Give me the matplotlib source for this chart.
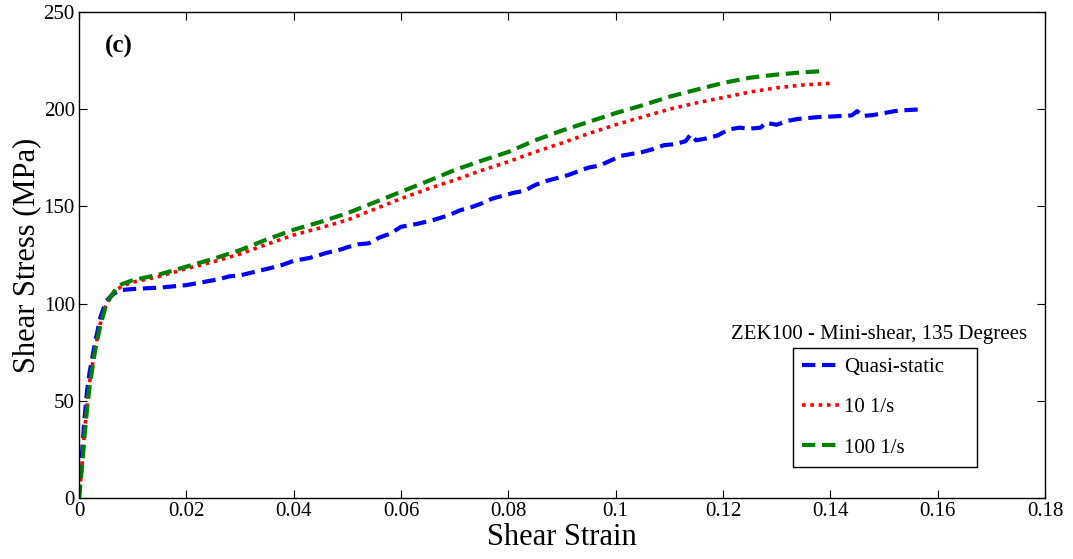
import matplotlib
matplotlib.use("Agg")
import matplotlib.pyplot as plt

plt.rcParams['font.family'] = ['Liberation Serif', 'DejaVu Serif']

# Quasi-static
qs_strain = [0, 0.0005, 0.001, 0.0015, 0.002, 0.003, 0.004, 0.005, 0.006, 0.007, 0.008, 0.010,
             0.012, 0.015, 0.018, 0.020, 0.023, 0.026, 0.028, 0.030, 0.033, 0.036, 0.038,
             0.040, 0.043, 0.046, 0.049, 0.050, 0.052, 0.054, 0.056, 0.058, 0.060, 0.063,
             0.066, 0.069, 0.071, 0.073, 0.075, 0.077, 0.079, 0.081, 0.083, 0.085, 0.087,
             0.089, 0.091, 0.093, 0.095, 0.097, 0.099, 0.101, 0.103, 0.105, 0.107, 0.109,
             0.111, 0.113, 0.114, 0.115, 0.117, 0.119, 0.121, 0.123, 0.125, 0.127, 0.128,
             0.130, 0.132, 0.134, 0.136, 0.138, 0.140, 0.142, 0.144, 0.145, 0.146, 0.148,
             0.150, 0.152, 0.154, 0.156, 0.157]
qs_stress = [0, 20, 40, 55, 65, 80, 93, 101, 104, 106, 107, 107.5,
             107.8, 108.2, 109, 109.5, 111, 112.5, 114, 114.5, 116.5, 118.5, 120,
             122, 123.5, 126, 128, 129, 130.5, 131, 134, 136, 139.5, 141,
             143, 145.5, 148, 149.5, 151.5, 154, 155.5, 157, 158, 161, 163,
             164.5, 166, 168, 170, 171, 173.5, 176, 177, 178, 179.5, 181.5,
             182, 183.5, 187, 184, 185, 186.5, 189.5, 190.5, 190, 190.5, 193,
             192, 194, 195, 195.5, 196, 196.2, 196.5, 196.8, 199, 196.5, 197,
             198, 199, 199.5, 199.8, 200]

# 10 1/s
r10_strain = [0, 0.0005, 0.001, 0.0015, 0.002, 0.003, 0.004, 0.005, 0.006, 0.007, 0.008,
              0.010, 0.015, 0.020, 0.025, 0.030, 0.035, 0.040, 0.045, 0.050, 0.055, 0.060,
              0.065, 0.070, 0.075, 0.080, 0.085, 0.090, 0.095, 0.100, 0.105, 0.110, 0.115,
              0.120, 0.125, 0.130, 0.135, 0.140]
r10_stress = [0, 15, 33, 48, 60, 77, 90, 99, 104, 107, 109,
              111, 114, 118, 121.5, 125.5, 130.5, 135.3, 139, 143, 148.5, 154,
              159, 163.6, 168.5, 173, 178, 182.6, 187.5, 192, 196, 200, 203.2,
              206, 208.8, 211, 212.5, 213.3]

# 100 1/s
r100_strain = [0, 0.0005, 0.001, 0.0015, 0.002, 0.003, 0.004, 0.005, 0.006, 0.007, 0.008,
               0.010, 0.015, 0.020, 0.025, 0.030, 0.035, 0.040, 0.045, 0.050, 0.055, 0.060,
               0.065, 0.070, 0.075, 0.080, 0.085, 0.090, 0.095, 0.100, 0.105, 0.110, 0.115,
               0.120, 0.125, 0.130, 0.135, 0.138]
r100_stress = [0, 14, 31, 46, 58, 76, 89, 99, 104, 108, 110,
               112, 115, 119, 123, 127.5, 133, 138, 142, 146.5, 152, 157.5,
               163, 168.7, 173.5, 178, 184, 189, 193.5, 198, 202, 206.4, 210,
               213.5, 216.2, 217.8, 219, 219.5]

fig = plt.figure(figsize=(10.73, 5.59), dpi=100)
ax = fig.add_axes([79/1073, 61/559, (1045-79)/1073, (498-12)/559])

ax.plot(qs_strain, qs_stress, color='#0000ff', linestyle=(0, (3.2, 1.6)), lw=3, label='Quasi-static')
ax.plot(r10_strain, r10_stress, color='#ff0000', linestyle=(0, (1, 1.3)), lw=2.6, label='10 1/s')
ax.plot(r100_strain, r100_stress, color='#008000', linestyle=(0, (3.2, 1.6)), lw=3, label='100 1/s')

ax.set_xlim(0, 0.18)
ax.set_ylim(0, 250)
ax.set_xticks([0, 0.02, 0.04, 0.06, 0.08, 0.1, 0.12, 0.14, 0.16, 0.18])
ax.set_xticklabels(['0', '0.02', '0.04', '0.06', '0.08', '0.1', '0.12', '0.14', '0.16', '0.18'])
ax.set_yticks([0, 50, 100, 150, 200, 250])
ax.tick_params(direction='in', top=True, right=True, labelsize=15, length=6, width=0.8, pad=3)
for s in ax.spines.values():
    s.set_linewidth(1.0)

ax.set_xlabel('Shear Strain', fontsize=22, labelpad=1)
ax.set_ylabel('Shear Stress (MPa)', fontsize=22, labelpad=2)

ax.text(0.027, 0.93, '(c)', transform=ax.transAxes, fontsize=18, fontweight='bold', va='center')

fig.text(879/1073, 1 - 335/559, 'ZEK100 - Mini-shear, 135 Degrees', fontsize=15, ha='center', va='center')

leg = ax.legend(loc='upper left',
                bbox_to_anchor=((793-79)/966, (498-463)/486, (977-793)/966, (463-348)/486),
                mode='expand', fontsize=15,
                frameon=True, fancybox=False, edgecolor='black', handlelength=1.8,
                handletextpad=0.2, borderpad=0.45, labelspacing=1.0, borderaxespad=0)
leg.get_frame().set_linewidth(1.0)
leg.get_frame().set_alpha(1)

fig.savefig('out.png', dpi=100)
